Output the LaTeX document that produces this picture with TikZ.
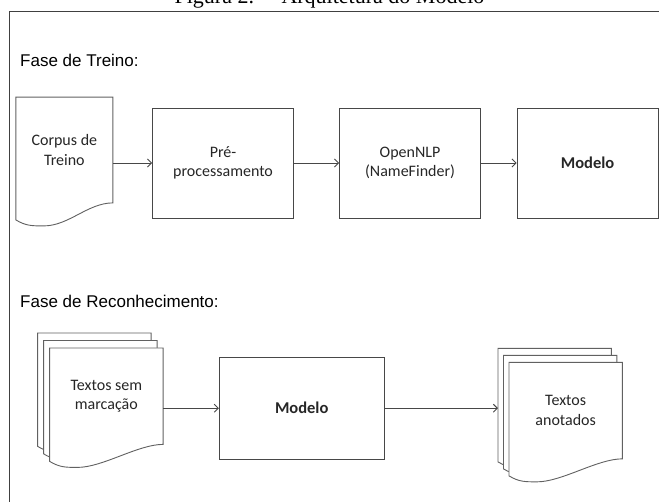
\documentclass[tikz,border=0pt]{standalone}
\usepackage{fontspec}
\setmainfont{Carlito}
\newfontfamily\labelfont{Liberation Sans}
\newfontfamily\captfont{Liberation Serif}
\usetikzlibrary{arrows.meta,backgrounds}

\tikzstyle{docnode} = [rectangle,inner sep=0pt,minimum width=113pt,minimum height=96pt,align=center,text=black!85,font=\fontsize{16}{19.5}\selectfont]
\tikzstyle{cnode}   = [docnode,minimum width=96.7pt,minimum height=105.4pt]
\tikzstyle{pblock}  = [draw=black!72,line width=0.9pt,rectangle,minimum width=141pt,minimum height=110pt,align=center,text=black!85,font=\fontsize{16}{19.5}\selectfont,node distance=180pt]
\tikzstyle{bblock}  = [pblock,font=\fontsize{16.5}{19.5}\selectfont\bfseries]
\tikzstyle{mblock}  = [bblock,minimum width=164.7pt,minimum height=101.7pt]
\tikzstyle{docline} = [draw=black!62,line width=0.9pt,fill=white]
\tikzstyle{flow}    = [draw=black!72,line width=0.9pt,-{Straight Barb[length=4pt,width=8pt]}]
\tikzstyle{phase}   = [anchor=west,inner sep=0pt,font=\labelfont\fontsize{17}{20}\selectfont]

\newcommand{\docshape}[1]{\draw[docline] (#1.south east) -- (#1.north east) -- (#1.north west) -- ([yshift=-17pt]#1.south west) .. controls +(10pt,-6pt) and +(-12pt,0pt) .. ([xshift=28pt,yshift=-23pt]#1.south west) .. controls +(25pt,0pt) and +(-25pt,0pt) .. (#1.south east) -- cycle;}

\begin{document}
\begin{tikzpicture}[x=1pt,y=-1pt]
			\useasboundingbox (0,0) rectangle (659,502);
			\clip (0,0) rectangle (659,502);
			\node [anchor=base,inner sep=0pt,font=\captfont\fontsize{22}{24}\selectfont](caption) at (329.5,4){Figura 2. -- Arquitetura do Modelo};
			\draw [black!75,line width=0.9pt] (9,520) -- (9,11.3) -- (670,11.3);
			
			\node [phase](phase 1) at (20,60){Fase de Treino:};
			\node [cnode](doc 1) at (64.35,150){Corpus de\\Treino};
			\node [pblock,right of=doc 1,xshift=-21.3pt,yshift=-13pt](proc 1){Pré-\\processamento};
			\node [pblock,right of=proc 1,xshift=7pt](proc 2){OpenNLP\\(NameFinder)};
			\node [bblock,right of=proc 2,xshift=-2.5pt](proc 3){Modelo};
			
			\node [phase](phase 2) at (20,301.7){Fase de Reconhecimento:};
			\node [docnode](doc 2a) at (94.35,381.2){};
			\node [docnode,xshift=6pt,yshift=-7.5pt](doc 2b) at (doc 2a){};
			\node [docnode,xshift=6pt,yshift=-7.5pt](doc 2) at (doc 2b){Textos sem\\marcação};
			\node [mblock](proc 4) at (301.7,408.2){Modelo};
			\node [docnode](doc 3a) at (554.65,396.65){};
			\node [docnode,xshift=5.5pt,yshift=-7pt](doc 3b) at (doc 3a){};
			\node [docnode,xshift=5.5pt,yshift=-7pt](doc 3) at (doc 3b){Textos\\anotados};
			
			\begin{pgfonlayer}{background}
			\docshape{doc 1}
			\docshape{doc 2a}\docshape{doc 2b}\docshape{doc 2}
			\docshape{doc 3a}\docshape{doc 3b}\docshape{doc 3}
			\end{pgfonlayer}
			
			\draw [flow] (doc 1.east |- proc 1.west) -- (proc 1.west);
			\draw [flow] (proc 1.east) -- (proc 2.west);
			\draw [flow] (proc 2.east) -- (proc 3.west);
			\draw [flow] (doc 2.east |- proc 4.west) -- (proc 4.west);
			\draw [flow] (proc 4.east) -- (doc 3a.west |- proc 4.east);
\end{tikzpicture}
\end{document}
